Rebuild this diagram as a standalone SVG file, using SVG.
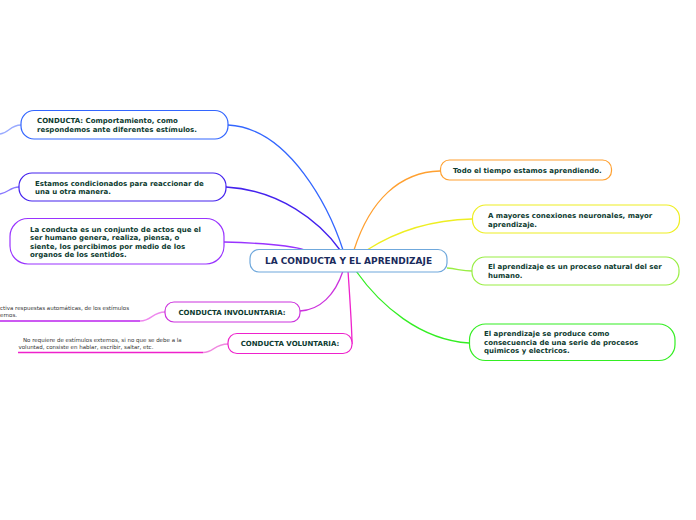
<svg xmlns="http://www.w3.org/2000/svg" width="696" height="520" viewBox="0 0 696 520">
<style>
.box{fill:#ffffff;stroke-width:1.2}
.t{font-family:"DejaVu Sans",Verdana,sans-serif;font-weight:bold;font-size:7px;fill:#0d3b30}
.title{font-family:"DejaVu Sans",Verdana,sans-serif;font-weight:bold;font-size:9px;fill:#1a2b5c}
.s{font-family:"DejaVu Sans",Verdana,sans-serif;font-size:5.5px;fill:#333333}
.c{fill:none;stroke-width:1.3}
</style>
<rect width="696" height="520" fill="#ffffff"/>
<g id="connectors">
  <path class="c" d="M228,125 C290,128 330,210 343,250" stroke="#3366ff"/>
  <path class="c" d="M226,187 C280,190 320,222 340,250" stroke="#4422ee"/>
  <path class="c" d="M224,242 C260,243 290,245 305,250" stroke="#9933ff"/>
  <path class="c" d="M343,271 C335,295 320,310 300,311" stroke="#cc33dd"/>
  <path class="c" d="M348,271 C350,300 352,330 352,344" stroke="#ee22cc"/>
  <path class="c" d="M354,250 C370,200 400,172 440,171" stroke="#ffa030"/>
  <path class="c" d="M367,250 C395,232 430,220 472,219" stroke="#eeee22"/>
  <path class="c" d="M447,268 C458,269 462,271 472,271" stroke="#99ee44"/>
  <path class="c" d="M356,271 C380,305 420,340 469,343" stroke="#33ee22"/>
  <path class="c" d="M0,134 C9,133 10,125 21,125" stroke="#99aaff"/>
  <path class="c" d="M0,194 C8,193 10,187 19,187" stroke="#8877ff"/>
  <path class="c" d="M165,312 C152,312 152,321 140,321" stroke="#ee88ee"/>
  <path class="c" d="M0,321 L140,321" stroke="#bb22ee"/>
  <path class="c" d="M228,344 C214,344 214,352.5 203,352.5" stroke="#f088e0"/>
  <path class="c" d="M18,352.5 L203,352.5" stroke="#ee22cc"/>
</g>
<g id="center">
  <rect class="box" x="250" y="249.5" width="197" height="22.5" rx="9" stroke="#6fa8dc" stroke-width="1.5"/>
  <text class="title" x="348.5" y="264" text-anchor="middle">LA CONDUCTA Y EL APRENDIZAJE</text>
</g>
<g id="n-conducta">
  <rect class="box" x="21" y="110.5" width="207" height="28.5" rx="13" stroke="#3366ff"/>
  <text class="t" x="37" y="123">CONDUCTA: Comportamiento, como</text>
  <text class="t" x="37" y="132">respondemos ante diferentes estímulos.</text>
</g>
<g id="n-estamos">
  <rect class="box" x="19" y="173" width="207" height="28" rx="13" stroke="#4422ee"/>
  <text class="t" x="35" y="186">Estamos condicionados para reaccionar de</text>
  <text class="t" x="35" y="194">una u otra manera.</text>
</g>
<g id="n-conjunto">
  <rect class="box" x="10" y="218.5" width="214" height="45.5" rx="18" stroke="#9933ff"/>
  <text class="t" x="30" y="231.5">La conducta es un conjunto de actos que el</text>
  <text class="t" x="30" y="240">ser humano genera, realiza, piensa, o</text>
  <text class="t" x="30" y="248.5">siente, los percibimos por medio de los</text>
  <text class="t" x="30" y="257">organos de los sentidos.</text>
</g>
<g id="n-involuntaria">
  <rect class="box" x="165" y="302" width="135" height="20" rx="9" stroke="#cc33dd"/>
  <text class="t" x="232" y="314.5" text-anchor="middle">CONDUCTA INVOLUNTARIA:</text>
  <text class="s" x="0" y="310">ctiva respuestas automáticas, de los estímulos</text>
  <text class="s" x="0" y="317">ernos.</text>
</g>
<g id="n-voluntaria">
  <rect class="box" x="228" y="333.5" width="124" height="20" rx="9" stroke="#ee22cc"/>
  <text class="t" x="290" y="346" text-anchor="middle">CONDUCTA VOLUNTARIA:</text>
  <text class="s" x="23" y="342">No requiere de estímulos externos, si no que se debe a la</text>
  <text class="s" x="18.5" y="349">voluntad, consiste en hablar, escribir, saltar, etc.</text>
</g>
<g id="n-todo">
  <rect class="box" x="440.5" y="160" width="171" height="20" rx="9" stroke="#ffa030"/>
  <text class="t" x="453" y="173">Todo el tiempo estamos aprendiendo.</text>
</g>
<g id="n-mayores">
  <rect class="box" x="472.5" y="205" width="207" height="28" rx="13" stroke="#eeee22"/>
  <text class="t" x="488" y="218">A mayores conexiones neuronales, mayor</text>
  <text class="t" x="488" y="226.5">aprendizaje.</text>
</g>
<g id="n-natural">
  <rect class="box" x="472" y="257" width="207" height="28" rx="13" stroke="#99ee44"/>
  <text class="t" x="488" y="268.5">El aprendizaje es un proceso natural del ser</text>
  <text class="t" x="488" y="277.5">humano.</text>
</g>
<g id="n-quimicos">
  <rect class="box" x="469.5" y="324" width="205.5" height="36.5" rx="16" stroke="#33ee22"/>
  <text class="t" x="484" y="336">El aprendizaje se produce como</text>
  <text class="t" x="484" y="344.5">consecuencia de una serie de procesos</text>
  <text class="t" x="484" y="353">quimicos y electricos.</text>
</g>
</svg>
